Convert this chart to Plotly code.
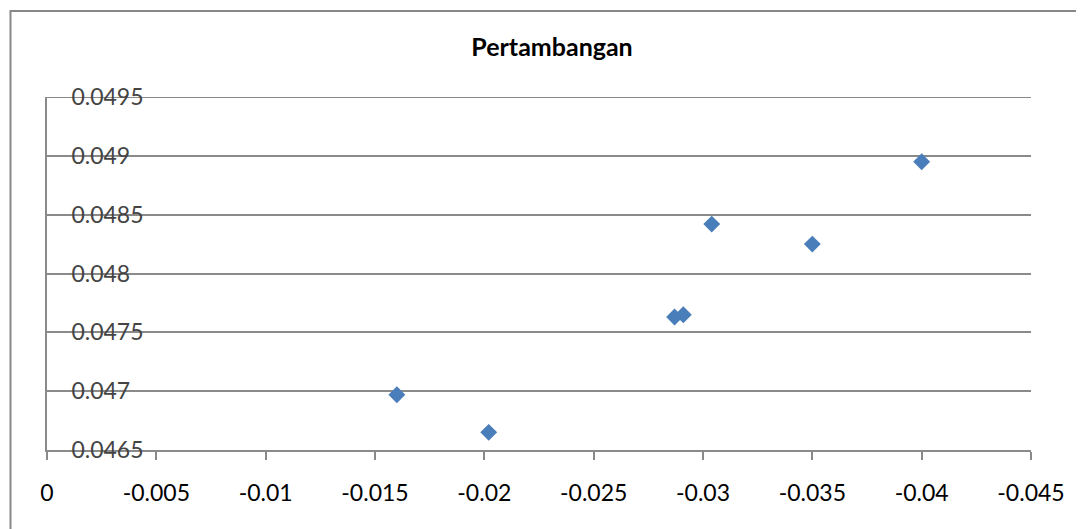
import plotly.graph_objects as go

# Data
x_vals = [-0.0160, -0.0202, -0.0287, -0.0291, -0.0304, -0.0350, -0.0400]
y_vals = [0.04697, 0.04665, 0.04763, 0.04765, 0.04842, 0.04825, 0.04895]

x_ticks = [0, -0.005, -0.01, -0.015, -0.02, -0.025, -0.03, -0.035, -0.04, -0.045]
x_tick_text = ["0", "-0.005", "-0.01", "-0.015", "-0.02", "-0.025", "-0.03", "-0.035", "-0.04", "-0.045"]
y_ticks = [0.0465, 0.047, 0.0475, 0.048, 0.0485, 0.049, 0.0495]
y_tick_text = ["0.0465", "0.047", "0.0475", "0.048", "0.0485", "0.049", "0.0495"]

title_text = "Pertambangan"

# page has an 8px body margin; compensate so the plot lands where the reference has it
OFF = 8
W, H = 1084 - OFF, 529 - OFF
L, R, T, B = 47 - OFF, 53, 97 - OFF, 79
PW, PH = W - L - R, H - T - B
grid_col = "#8a8a8a"

fig = go.Figure()
fig.add_trace(go.Scatter(
    x=x_vals, y=y_vals, mode="markers",
    marker=dict(symbol="diamond", size=13, color="#4a7ebb", line=dict(width=0)),
    showlegend=False,
))

fig.update_layout(
    width=W, height=H,
    margin=dict(l=L, r=R, t=T, b=B, pad=0),
    paper_bgcolor="white", plot_bgcolor="white",
    font=dict(family="Lato", size=23, color="black"),
    title=dict(text="<b>" + title_text + "</b>", x=(552 - OFF) / W, xanchor="center",
               xref="container", y=1 - (47 - OFF) / H, yanchor="middle", yref="container",
               font=dict(family="Lato", size=25, color="black")),
    xaxis=dict(
        range=[0, -0.045], tickvals=x_ticks, ticktext=x_tick_text,
        showgrid=False, zeroline=False,
        showline=True, linecolor=grid_col, linewidth=2,
        ticks="outside", ticklen=8, tickwidth=2, tickcolor=grid_col,
        ticklabelstandoff=13, ticklabeloverflow="allow",
    ),
    yaxis=dict(
        range=[y_ticks[0], y_ticks[-1]], tickvals=y_ticks, ticktext=y_tick_text,
        showgrid=True, gridcolor=grid_col, gridwidth=2, zeroline=False,
        showline=True, linecolor=grid_col, linewidth=2,
        ticks="", ticklabelposition="inside", ticklabelstandoff=26,
        ticklabeloverflow="allow",
    ),
    shapes=[
        dict(type="rect", xref="paper", yref="paper",
             x0=(10.5 - OFF - L) / PW, x1=(W + 10 - L) / PW,
             y0=-(B + 10) / PH, y1=(H - B - (11 - OFF)) / PH,
             line=dict(color="#888888", width=2), fillcolor="rgba(0,0,0,0)",
             layer="below"),
        # top gridline (plotly drops the grid line lying on the range edge)
        dict(type="line", xref="paper", x0=0, x1=1, yref="y",
             y0=y_ticks[-1], y1=y_ticks[-1],
             line=dict(color=grid_col, width=2), layer="below"),
    ],
)

fig.write_html("out.html")
